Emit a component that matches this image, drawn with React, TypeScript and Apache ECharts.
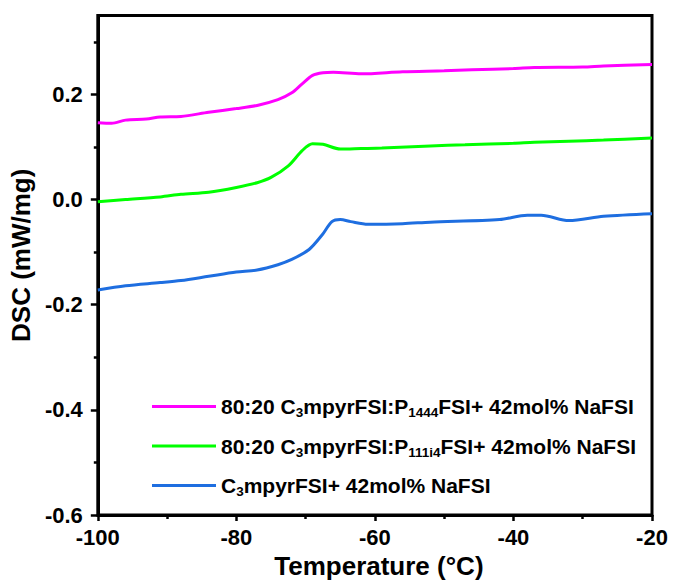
import React, { useEffect, useRef } from "react";
import * as echarts from "echarts";

const FONT = "Liberation Sans, Arial, sans-serif";

const seriesNames = [
  "80:20 C3mpyrFSI:P1444FSI+ 42mol% NaFSI",
  "80:20 C3mpyrFSI:P111i4FSI+ 42mol% NaFSI",
  "C3mpyrFSI+ 42mol% NaFSI",
];
const legendRich = [
  "{n|80:20 C}{s|3}{n|mpyrFSI:P}{s|1444}{n|FSI+ 42mol% NaFSI}",
  "{n|80:20 C}{s|3}{n|mpyrFSI:P}{s|111i4}{n|FSI+ 42mol% NaFSI}",
  "{n|C}{s|3}{n|mpyrFSI+ 42mol% NaFSI}",
];
const seriesColors = ["#FF00FF", "#00FF00", "#1E6EE0"];

const magentaT = [-100, -98, -96, -93, -91, -88, -84, -80, -77, -74, -72, -70.5, -69, -67.5, -66, -62, -56, -50, -46, -40, -37, -30, -27, -20];
const magentaDSC = [0.146, 0.145, 0.151, 0.153, 0.157, 0.158, 0.166, 0.173, 0.179, 0.19, 0.203, 0.22, 0.236, 0.241, 0.242, 0.239, 0.243, 0.245, 0.247, 0.249, 0.251, 0.252, 0.254, 0.257];

const greenT = [-100, -96, -91, -88, -84, -80, -77, -75, -72.5, -70.5, -69, -67.5, -65, -62, -59, -52, -47, -40, -37, -32, -27, -20];
const greenDSC = [-0.004, 0.0, 0.005, 0.01, 0.014, 0.023, 0.032, 0.042, 0.064, 0.093, 0.106, 0.105, 0.096, 0.097, 0.098, 0.102, 0.104, 0.107, 0.109, 0.111, 0.113, 0.117];

const blueT = [-100, -96, -91, -88, -84, -80, -77, -74, -72, -69.5, -67.6, -66.2, -65, -63.5, -61, -56, -52, -42, -38, -36, -32, -27, -20];
const blueDSC = [-0.172, -0.164, -0.158, -0.154, -0.146, -0.138, -0.134, -0.124, -0.114, -0.095, -0.067, -0.042, -0.038, -0.042, -0.047, -0.046, -0.043, -0.038, -0.03, -0.03, -0.04, -0.032, -0.027];

const yMajorTicks = [-0.6, -0.4, -0.2, 0.0, 0.2];
const yMinorTicks = [-0.5, -0.3, -0.1, 0.1, 0.3];

const zip = (xs: number[], ys: number[]) => xs.map((x, i) => [x, ys[i]]);

export default function App() {
  const ref = useRef<HTMLDivElement>(null);
  useEffect(() => {
    document.body.style.margin = "0";
    const chart = echarts.init(ref.current!, null, { renderer: "svg" });
    const axisLine = { show: true, onZero: false, lineStyle: { color: "#000", width: 3 } };
    const option: any = {
      animation: false,
      backgroundColor: "#fff",
      grid: {
        left: 97.5,
        right: 21,
        top: 15.5,
        bottom: 70,
        show: true,
        borderColor: "#000",
        borderWidth: 3,
        containLabel: false,
      },
      legend: {
        orient: "vertical",
        left: 152,
        top: 396,
        padding: 0,
        icon: "rect",
        itemWidth: 64,
        itemHeight: 3,
        itemGap: 16,
        data: seriesNames,
        formatter: (name: string) => legendRich[seriesNames.indexOf(name)],
        textStyle: {
          color: "#000",
          fontFamily: FONT,
          fontWeight: "bold",
          fontSize: 21,
          rich: {
            n: { fontFamily: FONT, fontWeight: "bold", fontSize: 21, color: "#000", lineHeight: 26 },
            s: { fontFamily: FONT, fontWeight: "bold", fontSize: 13.5, color: "#000", lineHeight: 12, verticalAlign: "bottom" },
          },
        },
      },
      xAxis: {
        type: "value",
        min: -100,
        max: -20,
        interval: 20,
        name: "Temperature (°C)",
        nameLocation: "middle",
        nameGap: 38,
        nameTextStyle: { fontFamily: FONT, fontWeight: "bold", fontSize: 26, color: "#000", padding: [0, 0, 0, 8] },
        axisLine,
        axisTick: { show: true, inside: false, length: 6, lineStyle: { color: "#000", width: 2.5 } },
        minorTick: { show: true, splitNumber: 2, length: 4, lineStyle: { color: "#000", width: 2.5 } },
        axisLabel: { fontFamily: FONT, fontWeight: "bold", fontSize: 22, color: "#000", margin: 11 },
        splitLine: { show: false },
        minorSplitLine: { show: false },
      },
      yAxis: [
        {
          type: "value",
          min: -0.6,
          max: 0.35,
          position: "left",
          name: "DSC (mW/mg)",
          nameLocation: "middle",
          nameGap: 53,
          nameRotate: 90,
          nameTextStyle: { fontFamily: FONT, fontWeight: "bold", fontSize: 26, color: "#000", padding: [0, 0, 0, 20] },
          axisLine,
          axisTick: { show: true, inside: false, length: 7, customValues: yMajorTicks, lineStyle: { color: "#000", width: 2.5 } },
          axisLabel: {
            fontFamily: FONT,
            fontWeight: "bold",
            fontSize: 22,
            color: "#000",
            margin: 15,
            customValues: yMajorTicks,
            formatter: (v: number) => v.toFixed(1),
          },
          splitLine: { show: false },
        },
        {
          type: "value",
          min: -0.6,
          max: 0.35,
          position: "left",
          axisLine: { show: false },
          axisTick: { show: true, inside: false, length: 4, customValues: yMinorTicks, lineStyle: { color: "#000", width: 2.5 } },
          axisLabel: { show: false },
          splitLine: { show: false },
        },
      ],
      series: [
        { name: seriesNames[0], data: zip(magentaT, magentaDSC) },
        { name: seriesNames[1], data: zip(greenT, greenDSC) },
        { name: seriesNames[2], data: zip(blueT, blueDSC) },
      ].map((s, i) => ({
        ...s,
        type: "line",
        yAxisIndex: 0,
        smooth: 0.3,
        symbol: "none",
        showSymbol: false,
        color: seriesColors[i],
        lineStyle: { color: seriesColors[i], width: 3 },
      })),
    };
    chart.setOption(option);
    return () => chart.dispose();
  }, []);
  return <div ref={ref} style={{ width: 673, height: 585 }} />;
}
